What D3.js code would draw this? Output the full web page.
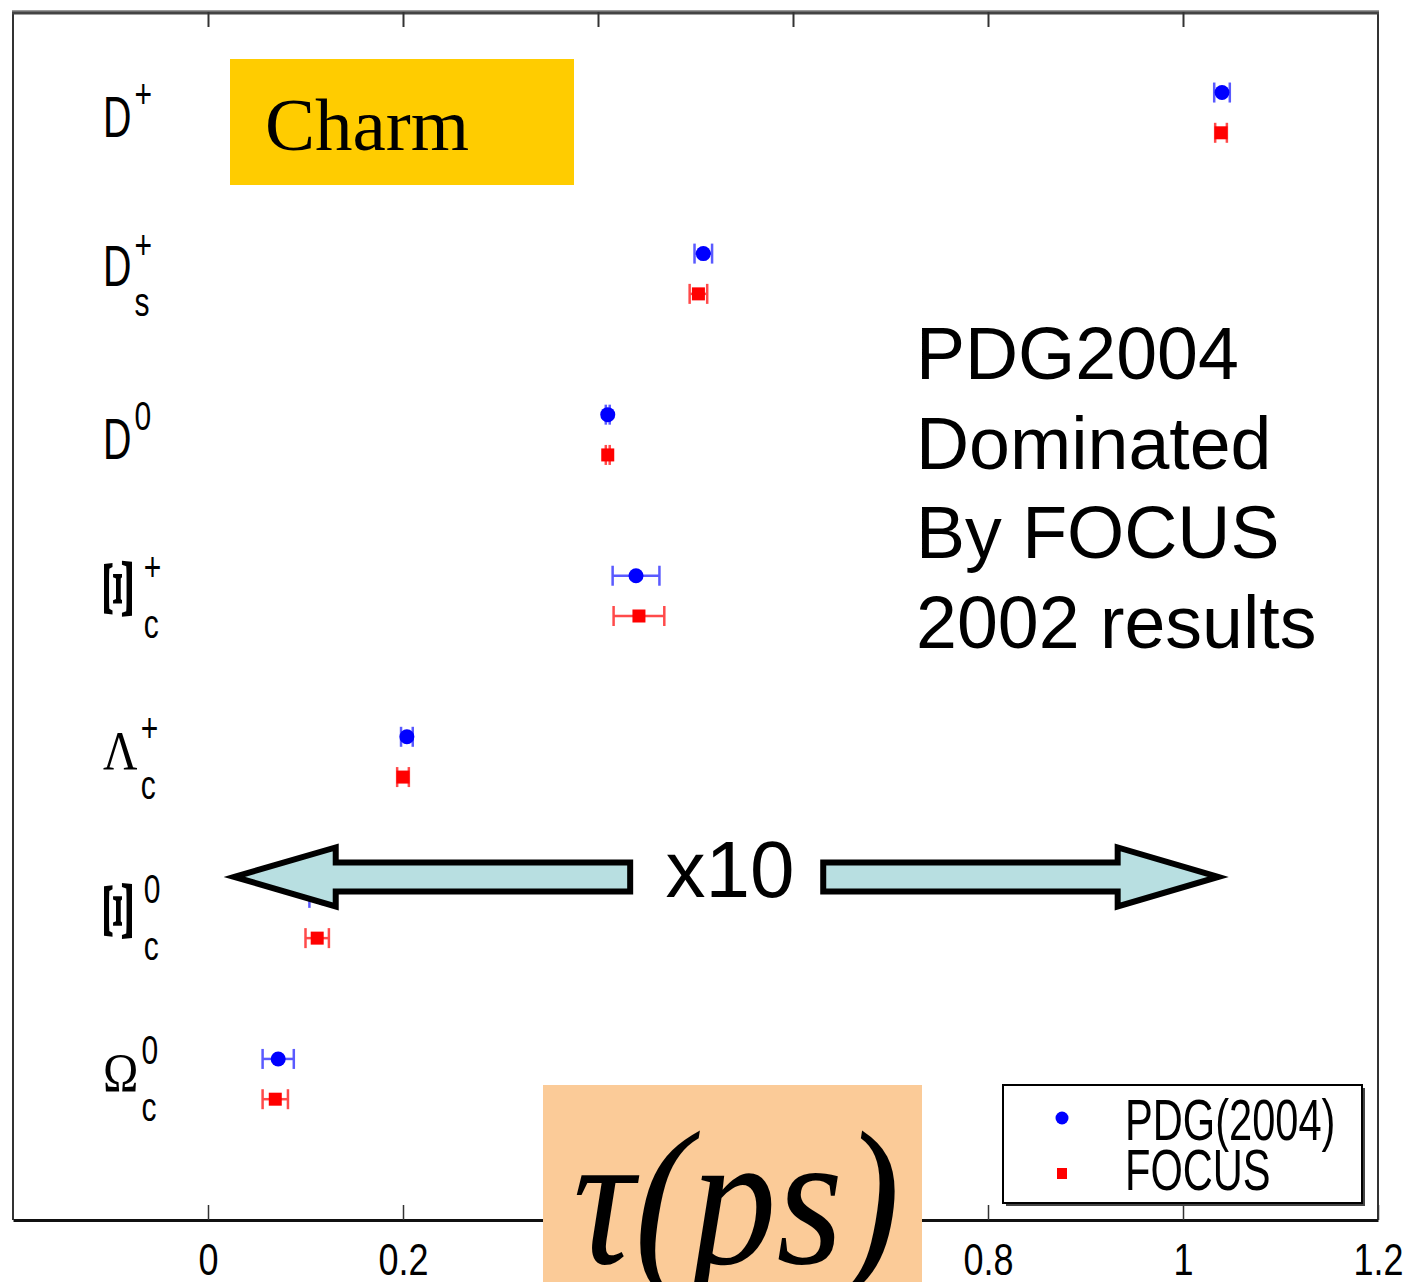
<!DOCTYPE html>
<html>
<head>
<meta charset="utf-8">
<script src="https://cdn.jsdelivr.net/npm/d3@7"></script>
<style>
  body { margin: 0; background: #fff; }
  svg { display: block; }
</style>
</head>
<body>
<svg id="chart"></svg>
<script>
// row labels (main glyph, superscript, subscript)
const labelMain = ["D", "D", "D", "Ξ", "Λ", "Ξ", "Ω"];
const labelSup = ["+", "+", "0", "+", "+", "0", "0"];
const labelSub = ["", "s", "", "c", "c", "c", "c"];
const rowPos = [7, 6, 5, 4, 3, 2, 1];

// lifetimes in ps
const pdgTau = [1.040, 0.508, 0.410, 0.439, 0.204, 0.118, 0.072];
const pdgErr = [0.008, 0.009, 0.002, 0.024, 0.006, 0.014, 0.016];
const focusTau = [1.039, 0.503, 0.410, 0.442, 0.200, 0.112, 0.069];
const focusErr = [0.006, 0.009, 0.002, 0.026, 0.006, 0.012, 0.013];

const xTicks = [0, 0.2, 0.4, 0.6, 0.8, 1, 1.2];
const noteLines = ["PDG2004", "Dominated", "By FOCUS", "2002 results"];
const legendNames = ["PDG(2004)", "FOCUS"];

const width = 1414;
const height = 1282;
const margin = {top: 12, right: 36, bottom: 62, left: 13};

const svg = d3.select("#chart")
  .attr("width", width)
  .attr("height", height);

const x = d3.scaleLinear().domain([-0.2, 1.2]).range([margin.left, width - margin.right]);
const y = d3.scaleLinear().domain([0, 7.5]).range([height - margin.bottom, margin.top]);

const sans = "'Liberation Sans', Arial, sans-serif";
const serif = "'Liberation Serif', 'Times New Roman', serif";

// frame
const x0 = x(-0.2), x1 = x(1.2), yTop = y(7.5), yBot = y(0);
svg.append("line").attr("x1", x0).attr("x2", x0).attr("y1", yTop).attr("y2", yBot)
  .attr("stroke", "#333").attr("stroke-width", 2);
svg.append("line").attr("x1", x1).attr("x2", x1).attr("y1", yTop).attr("y2", yBot)
  .attr("stroke", "#333").attr("stroke-width", 2);
svg.append("line").attr("x1", x0 - 1).attr("x2", x1 + 1).attr("y1", yTop - 1).attr("y2", yTop - 1)
  .attr("stroke", "#999").attr("stroke-width", 2);
svg.append("line").attr("x1", x0 - 1).attr("x2", x1 + 1).attr("y1", yTop + 1).attr("y2", yTop + 1)
  .attr("stroke", "#444").attr("stroke-width", 3);

// top ticks (inward, no labels)
svg.append("g")
  .attr("transform", `translate(0,${yTop})`)
  .call(d3.axisTop(x).tickValues(xTicks.slice(0, -1)).tickSize(-15).tickFormat(""))
  .call(g => g.select(".domain").remove())
  .call(g => g.selectAll(".tick line").attr("stroke", "#333").attr("stroke-width", 2));

// bottom axis
svg.append("g")
  .attr("transform", `translate(0,${yBot})`)
  .call(d3.axisBottom(x).tickValues(xTicks).tickSize(-15).tickSizeOuter(0).tickFormat(d3.format("")))
  .call(g => g.select(".domain").attr("stroke", "#111").attr("stroke-width", 3))
  .call(g => g.selectAll(".tick line").attr("stroke", "#333").attr("stroke-width", 1.5))
  .call(g => g.selectAll(".tick text")
    .attr("y", 55).attr("dy", null)
    .attr("fill", "#000")
    .attr("font-family", sans)
    .attr("font-size", 45)
    .attr("transform", "scale(0.8,1)"));

// row labels
rowPos.forEach((r, i) => {
  const cy = (y(r) + y(r - 0.25)) / 2;
  const hasSub = labelSub[i] !== "";
  const baseY = cy + (hasSub ? 12 : 24);
  const lx = 103;
  let main;
  if (labelMain[i] === "D") {
    main = svg.append("text")
      .attr("transform", `translate(${lx},${baseY}) scale(0.68,1)`)
      .attr("font-family", sans).attr("font-size", 58)
      .text(labelMain[i]);
  } else if (labelMain[i] === "Ξ") {
    // the source shows this glyph turned on its side
    main = svg.append("text")
      .attr("transform", `translate(${lx + 14},${cy - 7}) rotate(-90) scale(1,0.45)`)
      .attr("font-family", serif).attr("font-size", 96).attr("font-weight", "bold")
      .attr("text-anchor", "middle").attr("dominant-baseline", "central")
      .text(labelMain[i]);
  } else {
    main = svg.append("text")
      .attr("transform", `translate(${lx},${baseY}) scale(0.85,1)`)
      .attr("font-family", serif).attr("font-size", 56)
      .text(labelMain[i]);
  }
  const bb = main.node().getBoundingClientRect();
  const sx = Math.max(bb.right + 3, 134);
  svg.append("text")
    .attr("transform", `translate(${sx},${baseY - (hasSub ? 27 : 29)}) scale(0.75,1)`)
    .attr("font-family", sans).attr("font-size", 40)
    .text(labelSup[i]);
  if (hasSub) {
    svg.append("text")
      .attr("transform", `translate(${sx},${baseY + 30}) scale(0.75,1)`)
      .attr("font-family", sans).attr("font-size", 40)
      .text(labelSub[i]);
  }
});

// charm box
svg.append("rect").attr("x", 230).attr("y", 59).attr("width", 344).attr("height", 126)
  .attr("fill", "#ffcc00");
svg.append("text").attr("x", 265).attr("y", 150)
  .attr("font-family", serif).attr("font-size", 75)
  .text("Charm");

// note text
svg.append("g").selectAll("text")
  .data(noteLines)
  .join("text")
  .attr("x", 916)
  .attr("y", (d, i) => 379 + i * 89.7)
  .attr("font-family", sans).attr("font-size", 73.5)
  .text(d => d);

// data points
const series = [
  {tau: pdgTau, err: pdgErr, off: 0, color: "#0000ff", bar: "#5a5aff"},
  {tau: focusTau, err: focusErr, off: 0.25, color: "#ff0000", bar: "#ff4a4a"}
];
series.forEach((s, si) => {
  const pts = rowPos.map((r, i) => ({v: s.tau[i], e: s.err[i], r: r - s.off}));
  const g = svg.append("g");
  g.selectAll("line.err").data(pts).join("line")
    .attr("x1", d => x(d.v - d.e)).attr("x2", d => x(d.v + d.e))
    .attr("y1", d => y(d.r)).attr("y2", d => y(d.r))
    .attr("stroke", s.bar).attr("stroke-width", 2.5);
  [-1, 1].forEach(sg => {
    g.selectAll(null).data(pts).join("line")
      .attr("x1", d => x(d.v + sg * d.e)).attr("x2", d => x(d.v + sg * d.e))
      .attr("y1", d => y(d.r) - 10).attr("y2", d => y(d.r) + 10)
      .attr("stroke", s.bar).attr("stroke-width", 2.5);
  });
  if (si === 0) {
    g.selectAll("circle").data(pts).join("circle")
      .attr("cx", d => x(d.v)).attr("cy", d => y(d.r)).attr("r", 7.5)
      .attr("fill", s.color);
  } else {
    g.selectAll("rect").data(pts).join("rect")
      .attr("x", d => x(d.v) - 6.5).attr("y", d => y(d.r) - 6.5)
      .attr("width", 13).attr("height", 13)
      .attr("fill", s.color);
  }
});

// x10 arrows
const ay = 2.13, hh = 0.183, hs = 0.09;
const line = d3.line().x(d => x(d[0])).y(d => y(d[1]));
const leftArrow = [[0.027, ay], [0.131, ay + hh], [0.131, ay + hs], [0.433, ay + hs],
  [0.433, ay - hs], [0.131, ay - hs], [0.131, ay - hh]];
const rightArrow = [[1.036, ay], [0.933, ay + hh], [0.933, ay + hs], [0.631, ay + hs],
  [0.631, ay - hs], [0.933, ay - hs], [0.933, ay - hh]];
[leftArrow, rightArrow].forEach(a => {
  svg.append("path")
    .attr("d", line(a) + "Z")
    .attr("fill", "#b8dfe1")
    .attr("stroke", "#000")
    .attr("stroke-width", 6)
    .attr("stroke-linejoin", "miter");
});
svg.append("text")
  .attr("x", 730).attr("y", y(ay) + 20)
  .attr("text-anchor", "middle")
  .attr("font-family", sans).attr("font-size", 80)
  .text("x10");

// legend
const lg = svg.append("g").attr("transform", "translate(1003,1085)");
lg.append("rect").attr("x", 3).attr("y", 3).attr("width", 359).attr("height", 118).attr("fill", "#444");
lg.append("rect").attr("width", 359).attr("height", 118)
  .attr("fill", "#fff").attr("stroke", "#000").attr("stroke-width", 2);
lg.append("circle").attr("cx", 59).attr("cy", 33).attr("r", 6.5).attr("fill", "#0000ff");
lg.append("rect").attr("x", 54).attr("y", 83).attr("width", 10).attr("height", 11).attr("fill", "#ff0000");
lg.selectAll("text").data(legendNames).join("text")
  .attr("transform", (d, i) => `translate(122,${55 + i * 50}) scale(0.73,1)`)
  .attr("font-family", sans).attr("font-size", 57)
  .text(d => d);

// tau(ps) box
svg.append("rect").attr("x", 543).attr("y", 1085).attr("width", 379).attr("height", 200)
  .attr("fill", "#fbcb98");
svg.append("text")
  .attr("x", 573).attr("y", 1263)
  .attr("font-family", serif).attr("font-style", "italic").attr("font-size", 190)
  .attr("textLength", 327).attr("lengthAdjust", "spacingAndGlyphs")
  .text("τ(ps)");
</script>
</body>
</html>
